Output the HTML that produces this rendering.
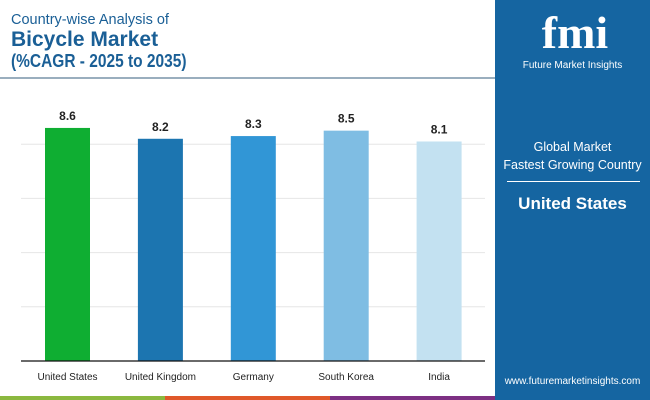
<!DOCTYPE html>
<html><head><meta charset="utf-8"><style>
body{margin:0;width:650px;height:400px;overflow:hidden;background:#fff;font-family:"Liberation Sans",sans-serif;position:relative}
.abs{position:absolute}
</style></head><body>
<div class="abs" style="left:11px;top:12px;font-size:14.5px;color:#1a5f96">Country-wise Analysis of</div>
<div class="abs" style="left:11px;top:28px;font-size:21px;font-weight:bold;color:#1a5f96">Bicycle Market</div>
<div class="abs" style="left:11px;top:51px;font-size:18px;font-weight:bold;color:#1a5f96;transform:scaleX(0.86);transform-origin:left">(%CAGR - 2025 to 2035)</div>
<div class="abs" style="left:0;top:77px;width:495px;height:2px;background:#9aaebe"></div>
<div class="abs" style="left:495px;top:0;width:155px;height:400px;background:#1565a1">
 <div class="abs" style="left:25px;top:8px;width:110px;text-align:center;color:#fff;font-family:'Liberation Serif',serif;font-weight:bold;font-size:46px;line-height:50px">fmi</div>
 <div class="abs" style="left:0;top:60px;width:155px;text-align:center;color:#fff;font-size:10px">Future Market Insights</div>
 <div class="abs" style="left:0;top:138px;width:155px;text-align:center;color:#fff;font-size:12.5px;line-height:18px">Global Market<br>Fastest Growing Country</div>
 <div class="abs" style="left:12px;top:181px;width:133px;height:1px;background:#fff"></div>
 <div class="abs" style="left:0;top:194px;width:155px;text-align:center;color:#fff;font-size:17px;font-weight:bold">United States</div>
 <div class="abs" style="left:0;top:376px;width:155px;text-align:center;color:#fff;font-size:10px">www.futuremarketinsights.com</div>
</div>
<div class="abs" style="left:0;top:396px;width:165px;height:4px;background:#8bb83f"></div>
<div class="abs" style="left:165px;top:396px;width:165px;height:4px;background:#e0582a"></div>
<div class="abs" style="left:330px;top:396px;width:165px;height:4px;background:#7d3083"></div>
<svg class="abs" style="left:0;top:0" width="495" height="396" id="chart"></svg>
<script>
const categories=["United States","United Kingdom","Germany","South Korea","India"];
const values=[8.6,8.2,8.3,8.5,8.1];
const colors=["#0fae32","#1c75b0","#3196d6","#7fbde3","#c3e1f1"];
const gridTicks=[2,4,6,8];
const svg=document.getElementById('chart');
const NS="http://www.w3.org/2000/svg";
const y=v=>361-v*27.1;
const x=i=>45+i*92.9;
const bw=45;
function mk(t,a){const e=document.createElementNS(NS,t);for(const k in a)e.setAttribute(k,a[k]);svg.appendChild(e);return e;}
gridTicks.forEach(t=>{const l=mk('line',{x1:21,x2:485,y1:y(t),y2:y(t),stroke:'#e6e6e6','stroke-width':1});

});
values.forEach((v,i)=>{
 const r=mk('rect',{x:x(i),y:y(v),width:bw,height:361-y(v),fill:colors[i]});
 
 
 const t=mk('text',{x:x(i)+bw/2,y:y(v)-8,'text-anchor':'middle','font-size':12,'font-weight':'bold',fill:'#222','font-family':'Liberation Sans'});
 t.textContent=v.toFixed(1);
 
 
 const c=mk('text',{x:x(i)+bw/2,y:380,'text-anchor':'middle','font-size':10,fill:'#222','font-family':'Liberation Sans'});
 c.textContent=categories[i];
 
 
});
const b=mk('line',{x1:21,x2:485,y1:361,y2:361,stroke:'#111','stroke-width':1.2});


</script>
</body></html>
